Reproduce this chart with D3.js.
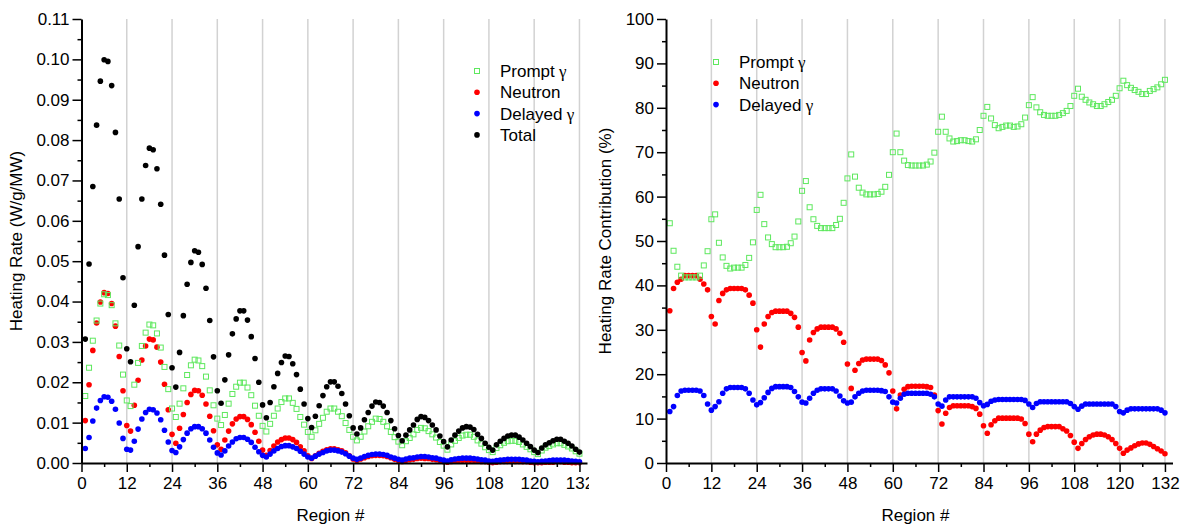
<!DOCTYPE html>
<html>
<head>
	<title>Heating rate by region</title>
	<script src="https://d3js.org/d3.v7.min.js"></script>
	<style type="text/css">
		body { margin: 0; background: #fff; }
		svg { display: block; }
	</style>
</head>
<body>
	<svg width="1188" height="527"></svg>

<script type="text/javascript">
	// region index (132 regions, 11 assemblies of 12)
	const regions = d3.range(1, 133);
	const xTicks = [0, 12, 24, 36, 48, 60, 72, 84, 96, 108, 120, 132];
	const xMinorTicks = [6, 18, 30, 42, 54, 66, 78, 90, 102, 114, 126];
	const rateTicks = [0, 0.01, 0.02, 0.03, 0.04, 0.05, 0.06, 0.07, 0.08, 0.09, 0.10, 0.11];
	const rateMinorTicks = [0.005, 0.015, 0.025, 0.035, 0.045, 0.055, 0.065, 0.075, 0.085, 0.095, 0.105];
	const pctTicks = [0, 10, 20, 30, 40, 50, 60, 70, 80, 90, 100];
	const pctMinorTicks = [5, 15, 25, 35, 45, 55, 65, 75, 85, 95];

	// heating rate, W/g/MW
	const totalRate = [
		0.0307,0.0493,0.0685,0.0837,0.0946,0.0999,0.0995,0.0935,0.0819,0.0654,0.0459,0.0283,
		0.0251,0.0391,0.0536,0.0654,0.0737,0.0780,0.0776,0.0729,0.0641,0.0515,0.0368,0.0236,
		0.0188,0.0274,0.0365,0.0443,0.0497,0.0526,0.0522,0.0492,0.0433,0.0353,0.0263,0.0179,
		0.0148,0.0206,0.0268,0.0320,0.0357,0.0377,0.0377,0.0354,0.0313,0.0259,0.0200,0.0144,
		0.0112,0.0150,0.0189,0.0222,0.0249,0.0265,0.0264,0.0246,0.0219,0.0183,0.0146,0.0110,
		0.0088,0.0116,0.0142,0.0167,0.0189,0.0201,0.0201,0.0190,0.0172,0.0146,0.0117,0.0087,
		0.0072,0.0087,0.0107,0.0125,0.0141,0.0151,0.0150,0.0141,0.0125,0.0105,0.0085,0.0068,
		0.0055,0.0069,0.0082,0.0094,0.0108,0.0115,0.0113,0.0105,0.0094,0.0082,0.0067,0.0053,
		0.0040,0.0057,0.0069,0.0079,0.0087,0.0090,0.0089,0.0083,0.0071,0.0061,0.0049,0.0039,
		0.0032,0.0045,0.0054,0.0061,0.0067,0.0069,0.0069,0.0064,0.0057,0.0049,0.0041,0.0032,
		0.0026,0.0037,0.0045,0.0050,0.0055,0.0059,0.0059,0.0054,0.0049,0.0042,0.0034,0.0027];
	const promptRate = [
		0.0166,0.0236,0.0303,0.0353,0.0395,0.0418,0.0416,0.0391,0.0346,0.0291,0.0219,0.0155,
		0.0141,0.0194,0.0248,0.0290,0.0323,0.0343,0.0341,0.0321,0.0286,0.0238,0.0183,0.0135,
		0.0114,0.0147,0.0185,0.0218,0.0242,0.0256,0.0254,0.0240,0.0214,0.0180,0.0143,0.0110,
		0.0094,0.0119,0.0147,0.0171,0.0189,0.0199,0.0199,0.0187,0.0168,0.0142,0.0117,0.0092,
		0.0078,0.0097,0.0117,0.0135,0.0151,0.0160,0.0160,0.0149,0.0134,0.0114,0.0095,0.0077,
		0.0065,0.0081,0.0097,0.0112,0.0127,0.0135,0.0135,0.0127,0.0116,0.0099,0.0082,0.0065,
		0.0056,0.0065,0.0078,0.0091,0.0102,0.0110,0.0109,0.0102,0.0091,0.0077,0.0064,0.0053,
		0.0044,0.0054,0.0062,0.0071,0.0082,0.0087,0.0086,0.0079,0.0071,0.0063,0.0052,0.0043,
		0.0033,0.0046,0.0055,0.0062,0.0068,0.0070,0.0070,0.0065,0.0056,0.0048,0.0039,0.0032,
		0.0027,0.0037,0.0044,0.0050,0.0054,0.0055,0.0055,0.0052,0.0046,0.0040,0.0034,0.0027,
		0.0022,0.0031,0.0038,0.0042,0.0046,0.0049,0.0049,0.0045,0.0041,0.0036,0.0029,0.0023];
	const neutronRate = [
		0.0105,0.0194,0.0279,0.0347,0.0399,0.0422,0.0420,0.0395,0.0339,0.0264,0.0179,0.0093,
		0.0079,0.0143,0.0205,0.0255,0.0290,0.0307,0.0305,0.0287,0.0250,0.0195,0.0132,0.0071,
		0.0049,0.0086,0.0120,0.0150,0.0170,0.0180,0.0179,0.0168,0.0146,0.0116,0.0080,0.0045,
		0.0034,0.0057,0.0079,0.0097,0.0109,0.0115,0.0115,0.0108,0.0095,0.0076,0.0054,0.0032,
		0.0019,0.0031,0.0042,0.0052,0.0058,0.0062,0.0062,0.0058,0.0051,0.0040,0.0030,0.0018,
		0.0011,0.0018,0.0024,0.0029,0.0033,0.0035,0.0035,0.0033,0.0030,0.0025,0.0018,0.0010,
		0.0006,0.0010,0.0013,0.0016,0.0018,0.0019,0.0019,0.0018,0.0016,0.0013,0.0009,0.0006,
		0.0004,0.0006,0.0008,0.0009,0.0011,0.0012,0.0011,0.0011,0.0009,0.0008,0.0006,0.0003,
		0.0002,0.0004,0.0005,0.0006,0.0007,0.0007,0.0007,0.0007,0.0005,0.0004,0.0003,0.0002,
		0.0001,0.0002,0.0003,0.0004,0.0004,0.0004,0.0004,0.0004,0.0003,0.0003,0.0002,0.0001,
		0.0001,0.0001,0.0002,0.0002,0.0002,0.0003,0.0003,0.0002,0.0002,0.0001,0.0001,0.0001];
	const delayedRate = [
		0.0036,0.0063,0.0104,0.0136,0.0155,0.0164,0.0163,0.0153,0.0133,0.0099,0.0061,0.0034,
		0.0032,0.0054,0.0084,0.0109,0.0125,0.0133,0.0132,0.0124,0.0107,0.0081,0.0052,0.0031,
		0.0026,0.0040,0.0058,0.0074,0.0085,0.0090,0.0090,0.0085,0.0074,0.0057,0.0039,0.0025,
		0.0020,0.0030,0.0042,0.0052,0.0060,0.0063,0.0063,0.0059,0.0051,0.0039,0.0028,0.0019,
		0.0015,0.0022,0.0030,0.0036,0.0041,0.0043,0.0043,0.0040,0.0036,0.0029,0.0022,0.0015,
		0.0012,0.0017,0.0022,0.0026,0.0030,0.0032,0.0032,0.0030,0.0027,0.0023,0.0017,0.0012,
		0.0009,0.0012,0.0016,0.0019,0.0021,0.0022,0.0022,0.0021,0.0019,0.0015,0.0012,0.0009,
		0.0007,0.0010,0.0012,0.0013,0.0015,0.0016,0.0016,0.0015,0.0013,0.0012,0.0009,0.0007,
		0.0005,0.0008,0.0010,0.0011,0.0012,0.0012,0.0012,0.0011,0.0010,0.0008,0.0007,0.0005,
		0.0004,0.0006,0.0007,0.0008,0.0009,0.0009,0.0009,0.0009,0.0008,0.0007,0.0005,0.0004,
		0.0003,0.0004,0.0005,0.0006,0.0007,0.0007,0.0007,0.0007,0.0006,0.0005,0.0004,0.0003];

	// contribution, %
	const promptPct = [
		54.0,47.8,44.2,42.2,41.8,41.8,41.8,41.8,42.2,44.5,47.7,54.9,
		56.0,49.6,46.3,44.4,43.8,44.0,44.0,44.0,44.6,46.2,49.7,57.0,
		60.4,53.8,50.8,49.3,48.6,48.6,48.6,48.7,49.5,51.0,54.4,61.3,
		63.5,57.6,54.9,53.4,52.9,52.9,52.9,52.9,53.6,55.0,58.6,64.1,
		69.5,64.5,62.0,60.9,60.5,60.5,60.5,60.6,61.1,62.2,64.9,70.0,
		74.2,70.0,68.1,67.1,67.0,67.0,67.0,67.0,67.2,67.9,69.9,74.6,
		78.0,74.6,73.1,72.4,72.5,72.7,72.7,72.5,72.4,72.9,75.0,78.2,
		80.2,77.6,76.1,75.4,75.7,76.0,76.0,75.7,75.8,76.3,77.8,80.6,
		82.4,80.1,79.0,78.4,78.2,78.2,78.2,78.4,78.8,79.3,80.4,82.7,
		84.3,82.5,81.8,81.2,80.8,80.4,80.4,80.8,81.3,81.8,82.7,84.4,
		86.1,85.1,84.5,84.0,83.6,83.1,83.1,83.8,84.2,84.6,85.3,86.3];
	const neutronPct = [
		34.3,39.3,40.7,41.4,42.2,42.2,42.2,42.2,41.4,40.3,39.0,33.0,
		31.3,36.6,38.2,39.0,39.3,39.3,39.3,39.3,39.0,37.8,36.0,30.0,
		26.1,31.3,33.0,33.9,34.2,34.2,34.2,34.2,33.7,32.8,30.6,24.9,
		23.0,27.7,29.4,30.2,30.6,30.6,30.6,30.6,30.2,29.2,27.2,22.3,
		16.8,20.9,22.4,23.2,23.4,23.4,23.4,23.4,23.1,22.1,20.3,16.2,
		12.2,15.3,16.6,17.2,17.3,17.3,17.3,17.3,17.2,17.0,15.3,11.8,
		8.8,11.2,12.5,12.9,12.9,12.9,12.9,12.9,12.7,12.3,11.0,8.4,
		6.7,8.6,9.5,10.1,10.1,10.1,10.1,10.1,10.1,9.9,8.9,6.5,
		4.8,6.5,7.4,8.0,8.2,8.2,8.2,8.2,7.7,7.2,6.2,4.7,
		3.3,4.4,5.3,5.9,6.3,6.5,6.5,6.3,5.9,5.3,4.4,3.3,
		2.2,2.9,3.4,3.9,4.3,4.5,4.5,4.2,3.7,3.2,2.7,2.1];
	const delayedPct = [
		11.6,12.7,15.2,16.2,16.4,16.4,16.4,16.4,16.2,15.2,13.3,11.9,
		12.7,13.8,15.7,16.7,17.0,17.0,17.0,17.0,16.7,15.7,14.2,13.1,
		13.6,14.7,15.9,16.8,17.2,17.2,17.2,17.2,17.0,16.1,14.9,13.7,
		13.5,14.6,15.7,16.4,16.7,16.7,16.7,16.7,16.2,15.1,14.0,13.5,
		13.7,14.9,15.7,16.2,16.4,16.4,16.4,16.4,16.3,16.1,14.9,13.7,
		13.5,14.6,15.5,15.7,15.7,15.7,15.7,15.7,15.7,15.5,14.9,13.3,
		12.8,14.2,14.9,14.9,14.9,14.9,14.9,14.9,14.9,14.6,13.6,12.9,
		13.2,13.9,14.2,14.3,14.3,14.3,14.3,14.3,14.3,14.3,14.1,13.3,
		12.5,13.4,13.8,13.8,13.8,13.8,13.8,13.8,13.8,13.8,13.4,12.7,
		12.1,12.8,13.3,13.3,13.3,13.3,13.3,13.3,13.3,13.3,12.7,11.6,
		11.3,11.9,12.2,12.2,12.2,12.2,12.2,12.2,12.2,12.2,11.9,11.3];

	const font = "'Liberation Sans', Arial, Helvetica, sans-serif";
	const green = "#5ee85e", red = "#ff0000", blue = "#0000ff", black = "#000000";

	const svg = d3.select("svg");

	svg.append("defs").append("clipPath").attr("id", "leftclip")
		.append("rect").attr("x", 0).attr("y", 0).attr("width", 589).attr("height", 527);

	function plot(g, xscale, yscale, opt) {
		const top = yscale.range()[1], bottom = yscale.range()[0];

		// vertical grid
		g.selectAll(".grid").data(xTicks.slice(1)).enter()
			.append("line")
			.attr("x1", d => xscale(d)).attr("x2", d => xscale(d))
			.attr("y1", top).attr("y2", bottom)
			.attr("stroke", "#d2d2d2").attr("stroke-width", 1.5);

		// series
		opt.series.forEach(s => {
			const pts = regions.map((r, i) => [r, s.values[i]]);
			if (s.shape == "square") {
				g.append("g").selectAll("rect").data(pts).enter().append("rect")
					.attr("x", d => xscale(d[0]) - 2.5)
					.attr("y", d => yscale(d[1]) - 2.5)
					.attr("width", 5).attr("height", 5)
					.attr("fill", "none").attr("stroke", s.color).attr("stroke-width", 1);
			} else {
				g.append("g").selectAll("circle").data(pts).enter().append("circle")
					.attr("cx", d => xscale(d[0]))
					.attr("cy", d => yscale(d[1]))
					.attr("r", 2.8)
					.attr("fill", s.color);
			}
		});

		// axes
		g.append("g").attr("transform", "translate(0," + bottom + ")")
			.call(d3.axisBottom(xscale).tickValues(xTicks).tickSize(9).tickSizeOuter(0).tickPadding(5));
		g.append("g").attr("transform", "translate(0," + bottom + ")")
			.call(d3.axisBottom(xscale).tickValues(xMinorTicks).tickSize(4).tickSizeOuter(0).tickFormat(""))
			.select(".domain").remove();

		g.append("g").attr("transform", "translate(" + xscale(0) + ",0)")
			.call(d3.axisLeft(yscale).tickValues(opt.yTicks).tickSize(9).tickSizeOuter(0).tickPadding(3).tickFormat(opt.fmt));
		g.append("g").attr("transform", "translate(" + xscale(0) + ",0)")
			.call(d3.axisLeft(yscale).tickValues(opt.yMinor).tickSize(4).tickSizeOuter(0).tickFormat(""))
			.select(".domain").remove();

		g.selectAll(".domain").attr("stroke-width", 2);
		g.selectAll(".tick line").attr("stroke-width", 1.5);
		g.selectAll(".tick text").attr("font-family", font).attr("font-size", 17).attr("fill", "#000");

		g.append("text")
			.attr("x", xscale(66)).attr("y", 521)
			.attr("text-anchor", "middle")
			.attr("font-family", font).attr("font-size", 17)
			.text("Region #");

		g.append("text")
			.attr("transform", "translate(" + opt.titleX + "," + (top + bottom) / 2 + ") rotate(-90)")
			.attr("text-anchor", "middle")
			.attr("font-family", font).attr("font-size", 17)
			.text(opt.title);

		// legend
		opt.series.slice().sort((a, b) => a.order - b.order).forEach((s, i) => {
			const ly = opt.legend[1] + i * 21.3;
			if (s.shape == "square") {
				g.append("rect").attr("x", opt.legend[0] - 2.5).attr("y", ly - 2.5)
					.attr("width", 5).attr("height", 5)
					.attr("fill", "none").attr("stroke", s.color);
			} else {
				g.append("circle").attr("cx", opt.legend[0]).attr("cy", ly).attr("r", 2.8).attr("fill", s.color);
			}
			const t = g.append("text")
				.attr("x", opt.legend[0] + 23).attr("y", ly).attr("dy", "0.36em")
				.attr("font-family", font).attr("font-size", 17);
			t.append("tspan").text(s.label);
			if (s.gamma) t.append("tspan").attr("font-family", "'Liberation Serif', 'DejaVu Serif', serif").text(" \u03b3");
		});
	}

	const left = svg.append("g").attr("clip-path", "url(#leftclip)");
	plot(left,
		d3.scaleLinear().domain([0, 134]).range([81.5, 587]),
		d3.scaleLinear().domain([0, 0.11]).range([463, 19]),
		{
			yTicks: rateTicks, yMinor: rateMinorTicks, fmt: d3.format(".2f"),
			title: "Heating Rate (W/g/MW)", titleX: 22, legend: [477, 71],
			series: [
				{label: "Neutron", values: neutronRate, color: red, shape: "dot", order: 1},
				{label: "Delayed", gamma: true, values: delayedRate, color: blue, shape: "dot", order: 2},
				{label: "Prompt", gamma: true, values: promptRate, color: green, shape: "square", order: 0},
				{label: "Total", values: totalRate, color: black, shape: "dot", order: 3}
			]
		});

	const right = svg.append("g");
	plot(right,
		d3.scaleLinear().domain([0, 134]).range([666, 1172.5]),
		d3.scaleLinear().domain([0, 100]).range([463, 19]),
		{
			yTicks: pctTicks, yMinor: pctMinorTicks, fmt: d3.format("d"),
			title: "Heating Rate Contribution (%)", titleX: 611, legend: [716, 62],
			series: [
				{label: "Neutron", values: neutronPct, color: red, shape: "dot", order: 1},
				{label: "Delayed", gamma: true, values: delayedPct, color: blue, shape: "dot", order: 2},
				{label: "Prompt", gamma: true, values: promptPct, color: green, shape: "square", order: 0}
			]
		});
</script>
</body>
</html>
